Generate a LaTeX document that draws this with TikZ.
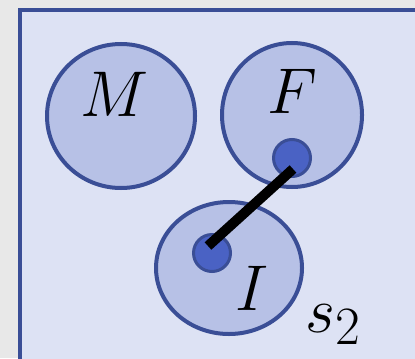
\documentclass[tikz,border=0pt]{standalone}
\usepackage{amsmath, amssymb}
\usepackage{graphicx}
\usepackage{xcolor}
\usepackage{tikz}
\usetikzlibrary{shapes.geometric}

\definecolor{frameblue}{RGB}{58,78,150}
\definecolor{panelfill}{RGB}{221,226,244}
\definecolor{regionfill}{RGB}{183,193,230}
\definecolor{dotfill}{RGB}{74,98,196}
\definecolor{paper}{RGB}{232,232,232}

\newcommand{\bigmath}[1]{\scalebox{1.3}{$#1$}}

\begin{document}
\begin{tikzpicture}[
    x=0.5pt, y=-0.5pt,
    region/.style={ellipse, draw=frameblue, fill=regionfill, line width=2pt, inner sep=0pt},
    spot/.style={circle, draw=frameblue, fill=dotfill, line width=1.5pt, minimum size=18.5pt, inner sep=0pt},
    tag/.style={inner sep=0pt, font=\fontsize{24.88}{30}\selectfont},
    bar/.style={line width=5pt, black}
]
\useasboundingbox (0,0) rectangle (415,358);
\clip (0,0) rectangle (415,358);
\fill[paper] (0,0) rectangle (415,358);

% panel
\draw[frameblue, fill=panelfill, line width=2pt] (19.5,10) rectangle (440,380);

% regions
\node[region, minimum width=74pt, minimum height=72pt] (M) at (121,116) {};
\node[region, minimum width=70pt, minimum height=72pt] (F) at (292,115) {};
\node[region, minimum width=73pt, minimum height=66pt] (I) at (229,268) {};

\node[tag, anchor=base] (labM) at (115,116) {\bigmath{M}};
\node[tag, anchor=base] (labF) at (292,113) {\bigmath{F}};
\node[tag, anchor=base] (labI) at (252,310) {\bigmath{I}};
\node[tag, anchor=base west] (labS) at (305,332) {\bigmath{s_2}};

% dots and link
\node[spot] (dF) at (292,158) {};
\node[spot] (dI) at (212,253) {};

\draw[bar] ([shift={(1,11)}]dF.center) -- ([shift={(-4,-7)}]dI.center);

\end{tikzpicture}
\end{document}
